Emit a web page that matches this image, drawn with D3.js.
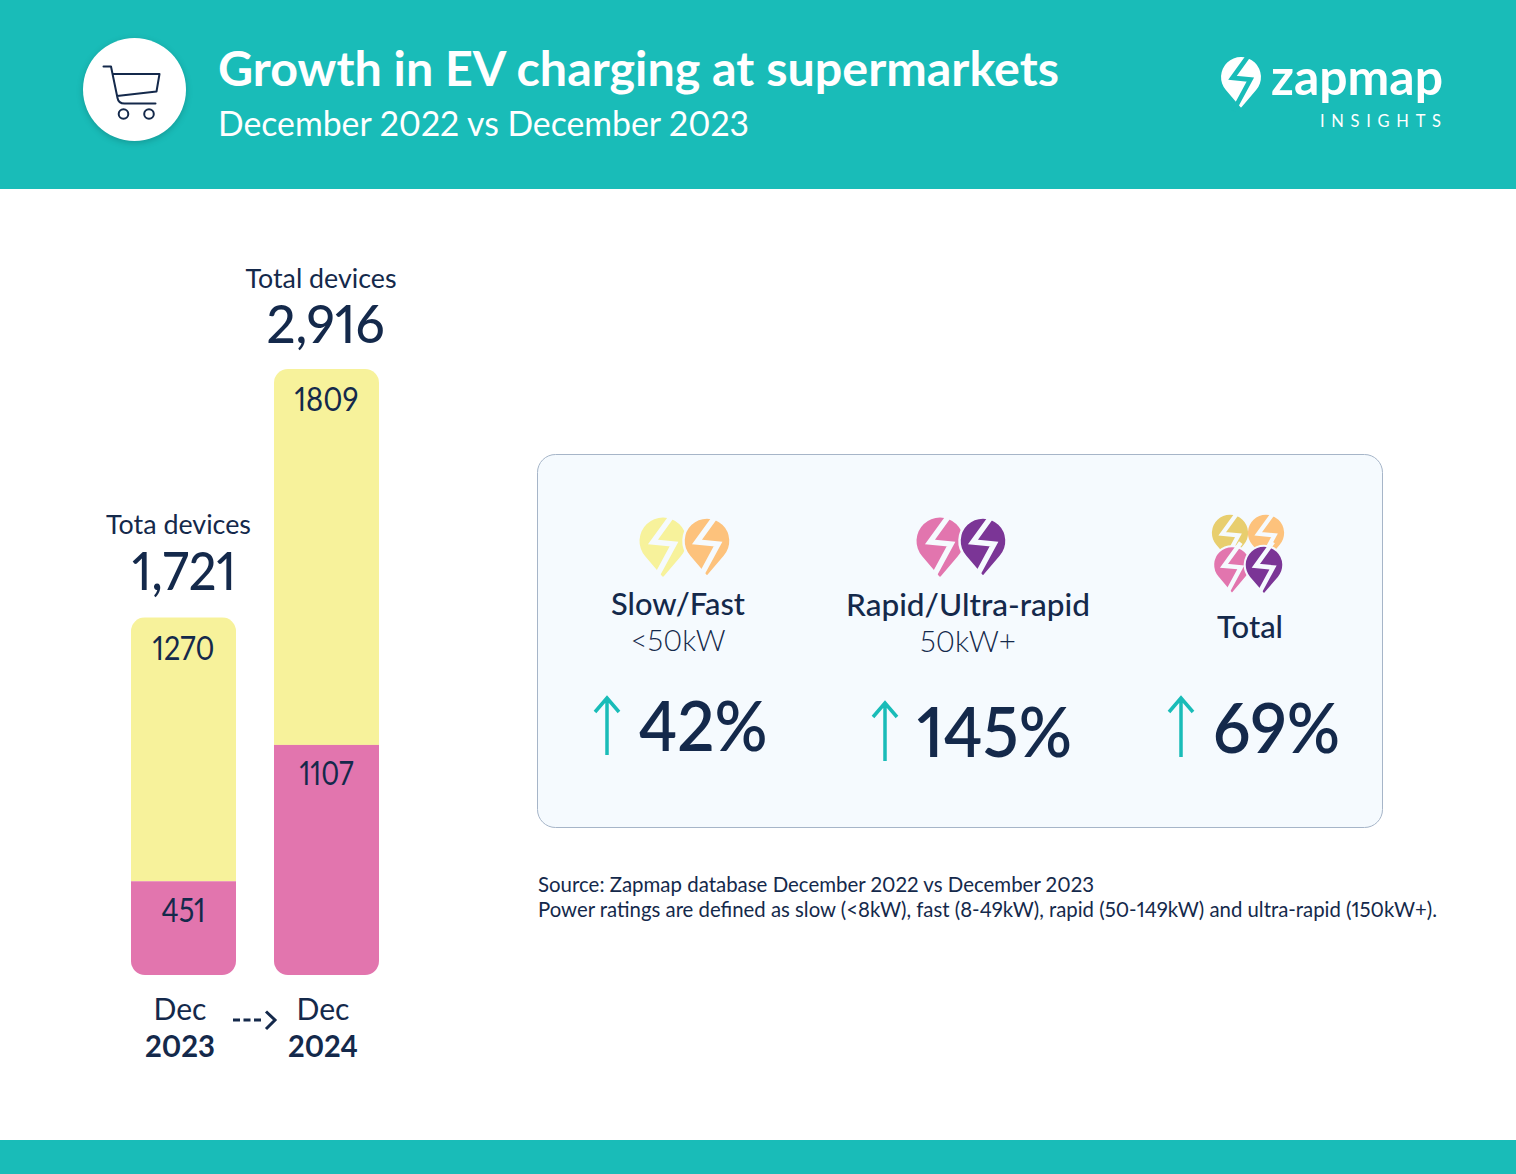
<!DOCTYPE html>
<html><head><meta charset="utf-8">
<script src="https://cdn.jsdelivr.net/npm/d3@7/dist/d3.min.js"></script>
<style>html,body{margin:0;padding:0;background:#fff}svg{display:block}text{font-family:Lato,sans-serif;font-variant-numeric:proportional-nums;font-feature-settings:"pnum" 1}</style>
</head><body><div id="c"></div>
<script>
const periods = ["Dec 2023","Dec 2024"];
const periodLine1 = ["Dec","Dec"];
const periodLine2 = ["2023","2024"];
const totals = ["1,721","2,916"];
const totalLabels = ["Tota devices","Total devices"];
const rapid = [451,1107];
const slow = [1270,1809];
const categories = ["Slow/Fast","Rapid/Ultra-rapid","Total"];
const subLabels = ["<50kW","50kW+",""];
const growth = ["42%","145%","69%"];

const teal="#19BCB8",navy="#14294B",yellow="#F7F29B",pink="#E275AE",panel="#F5FAFE";
const svg=d3.select("#c").append("svg").attr("width",1516).attr("height",1174).attr("viewBox","0 0 1516 1174");
const T=(x,y,s,size,o={})=>{const t=svg.append("text").attr("x",x).attr("y",y).text(s).attr("font-size",size)
  .attr("fill",o.fill||navy).attr("font-weight",o.w||400).attr("text-anchor",o.a||"middle");
  if(o.len)t.attr("textLength",o.len).attr("lengthAdjust",o.adj||"spacingAndGlyphs");
  return t;};

// header & footer
svg.append("rect").attr("width",1516).attr("height",189).attr("fill",teal);
svg.append("rect").attr("y",1140).attr("width",1516).attr("height",34).attr("fill",teal);
svg.append("circle").attr("cx",134.500).attr("cy",89.500).attr("r",51.500).attr("fill","#fff").style("filter","drop-shadow(0 2px 3px rgba(0,0,0,.18))");
svg.append("path").attr("d","M103.500 66.500H111L117.500 98Q118.500 103.500 124.500 103.500H155.500 M113 74H159.500L156.500 91.500L117 96")
  .attr("fill","none").attr("stroke",navy).attr("stroke-width",2).attr("stroke-linejoin","round").attr("stroke-linecap","round");
[123.500,149].forEach(cx=>svg.append("circle").attr("cx",cx).attr("cy",114).attr("r",4.800).attr("fill","none").attr("stroke",navy).attr("stroke-width",2));
T(218,86,"Growth in EV charging at supermarkets",47,{fill:"#fff",w:700,a:"start",len:841});
T(218,136,"December 2022 vs December 2023",34,{fill:"#fff",a:"start",len:531});

// pin marker
const pinShape="M-17.800 15.300A23.500 23.500 0 1 1 17.800 15.300L1 35Q0 36.500 -1 35Z";
const boltShape="M11 -28L-10 1L11 3L-9 40";
function pin(cx,cy,k,fill,bg,halo){
  const g=svg.append("g").attr("transform",`translate(${cx},${cy}) scale(${k})`);
  g.append("path").attr("d",pinShape).attr("fill",fill).attr("stroke",halo?bg:"none").attr("stroke-width",halo?2.500:0);
  g.append("path").attr("d",boltShape).attr("fill","none").attr("stroke",bg).attr("stroke-width",5.500);
}
pin(1241,77,0.85,"#fff",teal);
T(1271,95,"zapmap",50,{fill:"#fff",a:"start",w:700,len:172});
T(1320,127,"INSIGHTS",16.500,{fill:"#fff",a:"start",w:400,len:121,adj:"spacing"});

// stacked bars
const y=d3.scaleLinear().domain([0,2916]).range([975,369]);
const x=d3.scaleBand().domain(periods).range([131,379]).paddingInner(38/143);
const slowLen=[62,64], rapidLen=[44,54], totalLen=[104,118], labelLen=[145,151];
const defs=svg.append("defs");
periods.forEach((p,i)=>{
  const top=y(rapid[i]+slow[i]);
  defs.append("clipPath").attr("id","bar"+i).append("rect").attr("x",x(p)).attr("y",top)
    .attr("width",x.bandwidth()).attr("height",y(0)-top).attr("rx",14);
  const g=svg.append("g").attr("clip-path",`url(#bar${i})`);
  g.append("rect").attr("x",x(p)).attr("y",y(rapid[i]+slow[i])).attr("width",x.bandwidth()).attr("height",y(rapid[i])-y(rapid[i]+slow[i])).attr("fill",yellow);
  g.append("rect").attr("x",x(p)).attr("y",y(rapid[i])).attr("width",x.bandwidth()).attr("height",y(0)-y(rapid[i])).attr("fill",pink);
  const cx=x(p)+x.bandwidth()/2;
  T(cx,top+(i?42:43),slow[i],32,{len:slowLen[i]});
  T(cx,y(rapid[i])+(i?40:41),rapid[i],32,{len:rapidLen[i]});
  T(cx+(i?-1:0.500),top-(i?26:27),totals[i],52,{w:500,len:totalLen[i]});
  T(cx+(i?-5.500:-5),top-(i?81:83),totalLabels[i],26.500,{len:labelLen[i]});
  T(cx-3.500,1020,periodLine1[i],30,{len:53});
  T(cx-3.500,1057,periodLine2[i],31,{w:700,len:70});
});
svg.append("path").attr("d","M233 1020H263").attr("stroke",navy).attr("stroke-width",3).attr("stroke-dasharray","7 3.500");
svg.append("path").attr("d","M266 1011.500L275 1020L266 1029").attr("fill","none").attr("stroke",navy).attr("stroke-width",3);

// panel
svg.append("rect").attr("x",537.500).attr("y",454.500).attr("width",845).attr("height",373).attr("rx",18).attr("fill",panel).attr("stroke","#A6B5C8").attr("stroke-width",1);
pin(663,541,1,yellow,panel); pin(707,541,1,"#FDC27C",panel,true);
pin(940,541,1,pink,panel); pin(983,541,1,"#7B3596",panel,true);
pin(1230,533,0.77,"#E8CE6E",panel); pin(1266,533,0.77,"#FDC27C",panel);
pin(1232,565,0.8,pink,panel,true); pin(1264,565,0.82,"#7B3596",panel,true);

const catX=[678,968,1250], catY=[615,616,638], subY=[651,652], catLen=[134,244,66];
categories.forEach((c,i)=>{
  T(catX[i],catY[i],c,31,{w:500,len:catLen[i]});
  if(subLabels[i])T(catX[i],subY[i],subLabels[i],30,{w:300,len:i?96:95});
});
const arrX=[607,885,1181], arrTop=[698,703,698], arrBot=[755,761,757], gX=[703,994.500,1276.500], gY=[751,757,753], gLen=[129,155,127];
growth.forEach((g,i)=>{
  svg.append("path").attr("d",`M${arrX[i]} ${arrBot[i]}V${arrTop[i]}M${arrX[i]-12} ${arrTop[i]+14}L${arrX[i]} ${arrTop[i]}L${arrX[i]+12} ${arrTop[i]+14}`)
    .attr("fill","none").attr("stroke",teal).attr("stroke-width",3.500);
  T(gX[i],gY[i],g,70,{w:600,len:gLen[i]});
});
T(538,892,"Source: Zapmap database December 2022 vs December 2023",21,{a:"start",len:556});
T(538,917,"Power ratings are defined as slow (<8kW), fast (8-49kW), rapid (50-149kW) and ultra-rapid (150kW+).",21,{a:"start",len:899});
</script></body></html>
